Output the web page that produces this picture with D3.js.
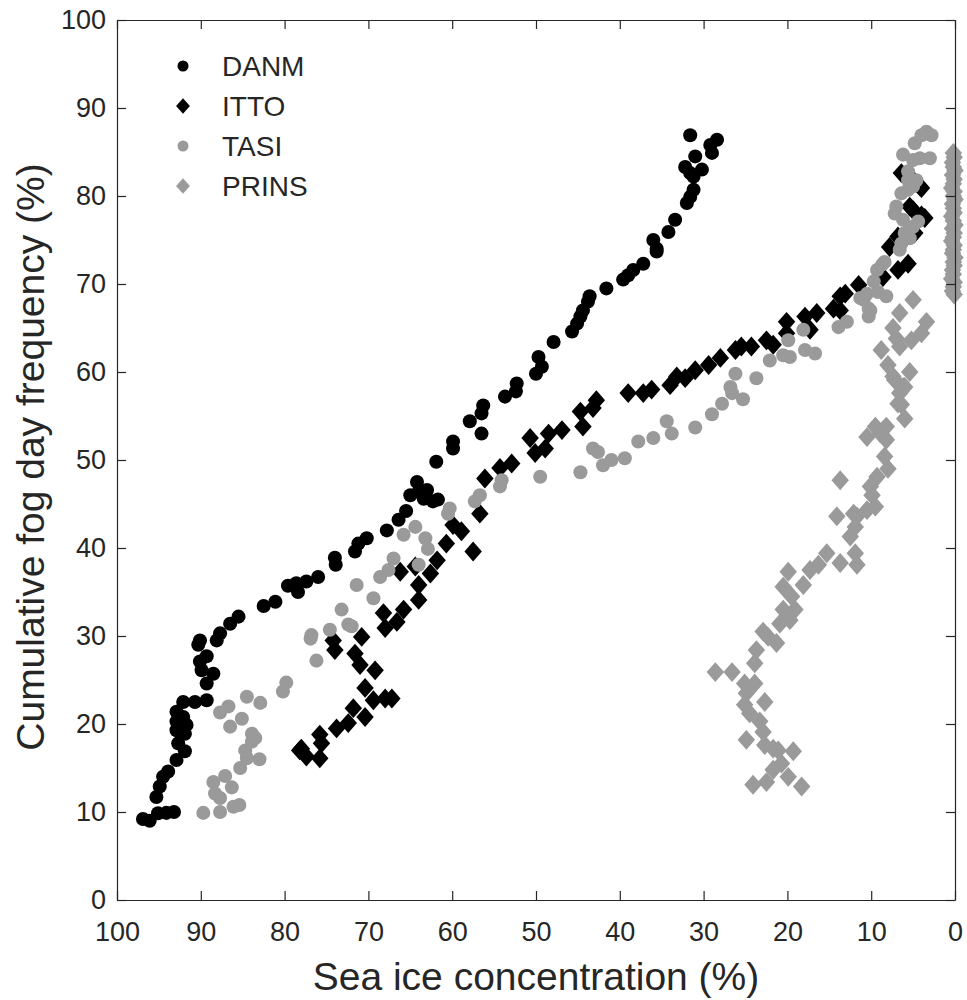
<!DOCTYPE html>
<html>
<head>
<meta charset="utf-8">
<script src="https://cdn.jsdelivr.net/npm/d3@7"></script>
<style>
  body { margin: 0; background: #fff; }
  text { font-family: "Liberation Sans", Arial, Helvetica, sans-serif; fill: #262626; }
</style>
</head>
<body>
<div id="chart"></div>
<script>
/* DATA: [sea ice concentration %, cumulative fog day frequency %] */
const danm = [
  [96.9,9.2],[96.1,9.0],[95.1,9.85],[94.1,9.9],[93.2,10.0],[95.3,11.7],[94.9,12.9],[94.5,14.0],
  [93.9,14.6],[92.9,15.9],[91.9,16.9],[92.7,17.8],[91.9,18.9],[92.9,19.3],[91.7,19.9],[92.9,20.3],
  [92.1,20.8],[92.9,21.4],[92.1,22.5],[90.7,22.5],[89.3,22.7],[89.3,24.6],[88.5,25.7],[89.9,26.1],
  [90.1,27.1],[89.3,27.7],[90.3,29.0],[90.1,29.5],[88.1,29.5],[87.7,30.3],[86.5,31.4],[85.5,32.2],
  [82.5,33.4],[81.1,33.9],[79.6,35.7],[78.6,36.0],[78.4,35.0],[77.4,36.2],[76.0,36.7],[74.0,38.9],
  [73.9,38.1],[71.6,39.6],[71.2,40.5],[70.2,41.1],[67.8,42.0],[66.4,43.2],[65.5,44.2],[64.2,47.5],
  [64.0,46.4],[65.0,46.0],[63.4,45.6],[63.0,46.6],[62.3,45.3],[61.7,45.5],[61.9,49.8],[59.9,52.1],
  [59.9,51.3],[57.9,54.4],[56.5,53.0],[56.5,55.3],[56.3,56.2],[53.7,57.2],[52.4,57.8],[52.3,58.7],
  [50.0,59.8],[49.3,60.6],[49.7,61.7],[47.9,63.4],[45.7,64.6],[45.1,65.5],[44.7,66.3],[44.4,67.0],
  [43.8,68.0],[43.6,68.6],[41.6,69.5],[39.6,70.5],[39.0,71.0],[38.4,71.6],[37.2,72.3],[36.0,75.0],
  [35.6,74.0],[35.6,73.7],[34.2,75.9],[33.4,77.3],[32.0,79.2],[31.6,79.9],[31.2,80.7],[32.2,83.3],
  [31.6,82.6],[31.2,82.2],[31.0,84.5],[30.2,83.0],[31.6,86.9],[29.2,85.8],[28.4,86.4],[29.0,84.9]
];

const itto = [
  [78.2,17.0],[77.4,16.3],[78.0,17.2],[75.8,18.8],[75.6,17.8],[75.8,16.1],[73.8,19.5],[72.4,20.1],
  [71.8,21.8],[70.4,20.8],[70.4,24.1],[69.4,22.7],[68.0,22.9],[67.2,22.9],[71.6,28.0],[71.0,26.7],
  [69.2,26.1],[74.2,29.5],[74.0,28.4],[70.8,29.9],[68.2,32.6],[68.0,30.9],[66.6,31.6],[65.8,33.0],
  [64.0,34.1],[64.0,35.8],[66.2,37.3],[64.4,37.9],[62.6,37.1],[61.8,38.6],[60.7,40.5],[59.9,42.6],
  [58.9,41.9],[57.5,39.6],[56.7,43.9],[56.1,47.9],[54.3,49.1],[52.9,49.6],[50.7,52.5],[50.1,50.8],
  [48.9,51.3],[48.5,53.0],[46.9,53.4],[44.7,55.5],[44.4,53.8],[43.2,55.9],[42.8,56.8],[39.0,57.6],
  [37.2,57.6],[36.2,58.0],[34.0,58.5],[33.2,59.5],[32.2,59.3],[31.0,60.2],[29.4,60.8],[28.0,61.6],
  [26.2,62.5],[25.5,62.9],[24.3,62.9],[22.5,63.6],[21.7,63.1],[20.1,65.7],[20.1,64.4],[17.9,66.3],
  [17.3,64.8],[16.5,66.7],[14.5,67.2],[13.7,68.6],[13.1,68.9],[13.7,67.0],[11.5,69.9],[8.6,70.8],
  [7.8,74.2],[6.8,71.6],[5.6,72.3],[6.8,75.4],[4.8,75.8],[5.0,78.4],[4.0,77.8],[5.4,78.8],
  [3.6,77.5],[6.4,82.6],[4.2,81.1],[4.8,81.6],[4.0,80.9]
];

const tasi = [
  [89.7,9.9],[87.7,10.0],[86.1,10.6],[85.4,10.8],[88.5,13.4],[88.3,12.1],[87.7,11.6],[87.1,14.1],
  [86.3,12.8],[85.3,15.0],[84.5,16.1],[83.0,16.0],[84.7,17.0],[83.9,18.0],[83.5,18.4],[83.9,18.9],
  [85.1,20.6],[86.5,19.7],[86.7,22.0],[87.7,21.3],[84.5,23.1],[82.9,22.4],[80.2,23.7],[79.8,24.7],
  [76.2,27.2],[76.9,29.7],[76.8,30.1],[74.6,30.7],[73.2,33.0],[72.4,31.3],[72.0,31.1],[71.4,35.8],
  [69.4,34.3],[68.6,36.7],[67.6,37.5],[67.0,38.8],[64.0,38.1],[65.8,41.5],[64.4,42.4],[63.2,41.1],
  [62.9,39.9],[60.5,43.9],[60.3,44.5],[57.3,45.3],[56.7,46.0],[54.3,47.0],[54.1,47.7],[49.5,48.1],
  [44.7,48.6],[43.2,51.3],[42.6,50.9],[42.0,49.4],[41.0,50.0],[39.4,50.2],[37.8,52.1],[36.0,52.5],
  [34.4,54.4],[33.8,53.0],[31.0,53.7],[29.0,55.2],[27.8,56.4],[26.6,57.6],[25.3,56.9],[26.8,58.3],
  [26.2,59.8],[23.7,59.3],[22.1,61.3],[20.5,61.9],[19.7,61.7],[19.9,63.6],[17.9,62.5],[16.7,62.1],
  [18.1,64.8],[13.9,65.1],[12.9,65.7],[11.3,68.4],[10.5,68.9],[10.3,67.2],[10.3,66.3],[9.7,70.3],
  [9.3,71.6],[8.7,72.2],[8.4,72.5],[9.2,69.1],[8.2,68.6],[10.9,68.2],[10.1,67.0],[6.6,73.9],
  [6.4,74.6],[6.0,75.8],[5.4,75.2],[6.2,77.3],[5.0,76.5],[4.4,77.1],[7.0,78.8],[7.2,78.0],
  [6.4,80.3],[5.6,80.7],[5.0,81.1],[5.6,81.8],[4.6,81.8],[5.6,82.8],[6.2,84.7],[5.0,84.1],
  [4.2,84.3],[3.0,84.3],[4.8,86.0],[4.0,86.9],[3.4,87.3],[2.8,86.9]
];

const prins = [
  [7.2,59.1],[6.2,58.3],[6.8,56.4],[6.4,56.3],[6.0,54.7],[10.5,52.6],[9.5,53.8],[8.9,53.0],
  [8.2,53.8],[8.2,52.3],[8.4,50.4],[8.0,49.0],[9.3,48.1],[13.7,47.7],[10.1,47.0],[9.9,46.0],
  [9.5,44.7],[10.5,44.3],[12.1,43.9],[14.1,43.6],[11.7,43.6],[11.9,42.4],[12.5,41.3],[11.9,39.4],
  [11.7,38.1],[13.7,38.3],[15.3,39.4],[16.3,38.1],[17.3,37.5],[18.1,35.8],[19.9,37.3],[20.5,35.6],
  [19.5,34.5],[19.1,33.0],[20.5,33.0],[20.9,31.4],[19.7,31.8],[22.9,30.5],[22.3,29.9],[21.3,29.2],
  [23.7,28.4],[23.9,26.9],[28.6,25.9],[26.6,25.9],[25.1,24.6],[23.9,24.6],[24.9,23.5],[25.1,22.2],
  [22.7,22.5],[24.5,21.2],[23.3,20.3],[22.9,19.1],[24.9,18.2],[22.7,17.6],[21.7,17.2],[21.1,17.0],
  [19.3,16.9],[20.7,15.5],[21.7,14.8],[19.9,14.0],[22.5,13.4],[24.1,13.1],[18.3,12.9],
  [5.0,68.2],[6.6,66.7],[7.4,65.0],[3.4,65.7],[4.0,64.4],[7.0,63.8],[5.2,63.6],[6.6,62.9],
  [8.8,62.5],[8.0,60.8],[7.4,59.5],[5.4,60.0],[6.0,58.3],[6.6,57.6],
  [0.2,84.9],[0.1,84.4],[0.3,83.8],[0.2,83.3],[0.0,82.9],[0.3,82.4],[0.1,81.9],[0.2,81.4],
  [0.4,80.9],[0.1,80.5],[0.2,80.0],[0.0,79.6],[0.3,79.1],[0.2,78.6],[0.1,78.1],[0.4,77.7],
  [0.2,77.2],[0.0,76.7],[0.3,76.3],[0.1,75.8],[0.2,75.3],[0.4,74.9],[0.1,74.4],[0.2,73.9],
  [0.3,73.5],[0.0,73.0],[0.2,72.5],[0.1,72.1],[0.3,71.6],[0.2,71.1],[0.4,70.6],[0.1,70.2],
  [0.2,69.7],[0.3,69.2],[0.1,68.8]
];

const seriesNames = ["DANM", "ITTO", "TASI", "PRINS"];
const xTicks = [100, 90, 80, 70, 60, 50, 40, 30, 20, 10, 0];
const yTicks = [0, 10, 20, 30, 40, 50, 60, 70, 80, 90, 100];

/* CONSTANTS */
const width = 967,
  height = 1000,
  margin = { top: 20, bottom: 100, left: 117, right: 12 },
  axisColor = "#262626",
  black = "#000000",
  gray = "#9a9a9a";

// diamond a little taller than wide, like the MATLAB 'd' marker
const diamond = {
  draw(context, size) {
    const h = Math.sqrt(size) * 0.75, w = h * 0.88;
    context.moveTo(0, -h);
    context.lineTo(w, 0);
    context.lineTo(0, h);
    context.lineTo(-w, 0);
    context.closePath();
  }
};

const styles = {
  DANM: { data: danm, shape: d3.symbolCircle, color: black },
  ITTO: { data: itto, shape: diamond, color: black },
  TASI: { data: tasi, shape: d3.symbolCircle, color: gray },
  PRINS: { data: prins, shape: diamond, color: gray }
};

/* SCALES */
const xScale = d3.scaleLinear()
  .domain([100, 0])
  .range([margin.left, width - margin.right]);

const yScale = d3.scaleLinear()
  .domain([0, 100])
  .range([height - margin.bottom, margin.top]);

/* SVG */
const svg = d3.select("#chart")
  .append("svg")
  .attr("width", width)
  .attr("height", height);

// points first so the axes sit on top
seriesNames.forEach(name => {
  const s = styles[name];
  const size = s.shape === d3.symbolCircle ? 155 : 175;
  svg.append("g")
    .attr("class", "series " + name)
    .selectAll("path")
    .data(s.data)
    .join("path")
    .attr("transform", d => `translate(${xScale(d[0])},${yScale(d[1])})`)
    .attr("d", d3.symbol().type(s.shape).size(size))
    .attr("fill", s.color);
});

/* AXES */
const tickLen = 9;

svg.append("g")
  .attr("transform", `translate(0,${height - margin.bottom})`)
  .call(d3.axisBottom(xScale).tickValues(xTicks).tickSizeInner(-tickLen).tickSizeOuter(0).tickPadding(22));

svg.append("g")
  .attr("transform", `translate(${margin.left},0)`)
  .call(d3.axisLeft(yScale).tickValues(yTicks).tickSizeInner(-tickLen).tickSizeOuter(0).tickPadding(11));

// right side of the box
svg.append("g")
  .attr("transform", `translate(${width - margin.right},0)`)
  .call(d3.axisRight(yScale).tickValues(yTicks).tickSizeInner(-tickLen).tickSizeOuter(0).tickFormat(""));

// top line
svg.append("g")
  .attr("transform", `translate(0,${margin.top})`)
  .call(d3.axisTop(xScale).tickValues(xTicks).tickSizeInner(-tickLen).tickSizeOuter(0).tickFormat(""));

svg.selectAll(".domain, .tick line")
  .attr("stroke", axisColor)
  .attr("stroke-width", 1.2);

svg.selectAll(".tick text")
  .attr("fill", axisColor)
  .attr("font-size", 27)
  .style("font-family", "'Liberation Sans', Arial, sans-serif");

// axis titles
svg.append("text")
  .attr("x", (margin.left + width - margin.right) / 2)
  .attr("y", 990)
  .attr("text-anchor", "middle")
  .attr("font-size", 39)
  .text("Sea ice concentration (%)");

svg.append("text")
  .attr("transform", `translate(44,${(margin.top + height - margin.bottom) / 2 - 3}) rotate(-90)`)
  .attr("text-anchor", "middle")
  .attr("font-size", 39)
  .text("Cumulative fog day frequency (%)");

/* LEGEND */
const legend = svg.append("g").attr("class", "legend");

seriesNames.forEach((name, i) => {
  const s = styles[name];
  const y = 66 + i * 40;
  legend.append("path")
    .attr("transform", `translate(183,${y})`)
    .attr("d", d3.symbol().type(s.shape).size(s.shape === d3.symbolCircle ? 95 : 110))
    .attr("fill", s.color);
  legend.append("text")
    .attr("x", 222)
    .attr("y", y)
    .attr("dy", "0.36em")
    .attr("font-size", 28)
    .attr("fill", "#000")
    .text(name);
});
</script>
</body>
</html>
